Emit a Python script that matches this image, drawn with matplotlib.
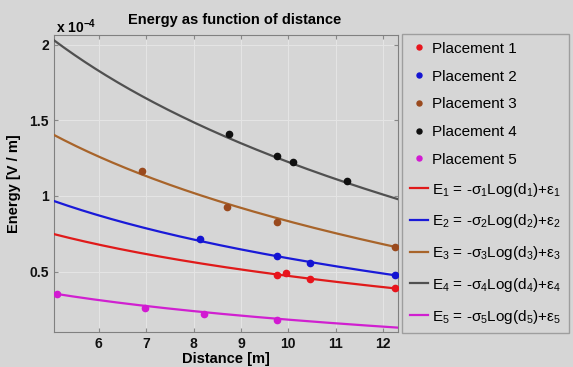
import numpy as np
import matplotlib
matplotlib.use("Agg")
import matplotlib.pyplot as plt
from matplotlib.ticker import FuncFormatter

plt.rcParams['font.family'] = ['Liberation Sans', 'DejaVu Sans']
plt.rcParams['mathtext.fontset'] = 'custom'
plt.rcParams['mathtext.rm'] = 'Liberation Sans'
plt.rcParams['mathtext.it'] = 'Liberation Sans:italic'
plt.rcParams['mathtext.bf'] = 'Liberation Sans:bold'

# Measured points (distance [m], energy [1e-4 V/m])
p1_d = [9.77, 9.96, 10.45, 12.25]
p1_e = [0.48, 0.49, 0.45, 0.39]
p2_d = [8.14, 9.77, 10.45, 12.25]
p2_e = [0.715, 0.60, 0.56, 0.475]
p3_d = [6.92, 8.70, 9.77, 12.25]
p3_e = [1.166, 0.927, 0.83, 0.66]
p4_d = [8.74, 9.77, 10.10, 11.23]
p4_e = [1.41, 1.265, 1.225, 1.10]
p5_d = [5.11, 6.98, 8.21, 9.77]
p5_e = [0.355, 0.26, 0.22, 0.18]

# Fitted model parameters E = -sigma*log(d) + eps  (units 1e-4)
sigmas = [0.405, 0.554, 0.835, 1.179, 0.253]
epss = [1.404, 1.864, 2.756, 3.939, 0.765]

colors = ['#e8141c', '#1414d2', '#9a4a1e', '#101010', '#d21ad2']
line_colors = ['#e01a1a', '#1a1ad8', '#a8642a', '#505050', '#d020d0']

points = [(p1_d, p1_e), (p2_d, p2_e), (p3_d, p3_e), (p4_d, p4_e), (p5_d, p5_e)]

bg = '#d6d6d6'
fig = plt.figure(figsize=(5.73, 3.67), dpi=100, facecolor=bg)
ax = fig.add_axes([0.094, 0.095, 0.601, 0.81], facecolor=bg)

handles = []
labels = []
for i, (d, e) in enumerate(points):
    h = ax.plot(d, e, 'o', color=colors[i], markersize=4.5, zorder=4)[0]
    handles.append(h)
    labels.append(f'Placement {i+1}')

dd = np.linspace(5.05, 12.3, 200)
for i in range(5):
    h = ax.plot(dd, -sigmas[i] * np.log(dd) + epss[i], '-', color=line_colors[i], lw=1.6, zorder=3)[0]
    handles.append(h)
    n = i + 1
    labels.append('E$_{%d}$ = -σ$_{%d}$Log(d$_{%d}$)+ε$_{%d}$' % (n, n, n, n))

ax.set_xlim(5.05, 12.32)
ax.set_ylim(0.10, 2.065)
ax.set_xticks([6, 7, 8, 9, 10, 11, 12])
ax.set_yticks([0.5, 1.0, 1.5, 2.0])
ax.yaxis.set_major_formatter(FuncFormatter(lambda v, p: f'{v:g}'))
ax.grid(True, color='#e4e4e4', lw=0.8)
ax.tick_params(direction='in', length=3, colors='#888888', labelcolor='#111111',
               top=True, right=True, labelsize=10)
for lab in ax.get_xticklabels() + ax.get_yticklabels():
    lab.set_fontweight('bold')
for s in ax.spines.values():
    s.set_color('#808080')

ax.set_xlabel('Distance [m]', fontsize=10.5, fontweight='bold', labelpad=1)
ax.set_ylabel('Energy [V / m]', fontsize=10.5, fontweight='bold', labelpad=6)
fig.text(0.41, 0.945, 'Energy as function of distance', ha='center', va='center',
         fontsize=10.5, fontweight='bold')
fig.text(0.098, 0.928, r'x 10$^{\mathbf{-4}}$', ha='left', va='center',
         fontsize=10, fontweight='bold')

leg = fig.legend(handles, labels, loc='upper left', bbox_to_anchor=(0.702, 0.907),
                 fontsize=11, frameon=True, fancybox=False, facecolor=bg,
                 edgecolor='#909090', handlelength=1.2, handletextpad=0.25,
                 labelspacing=0.9, borderaxespad=0, borderpad=0.5, markerscale=0.8)
leg.get_frame().set_linewidth(1.0)

fig.savefig('out.png', dpi=100, facecolor=bg)
